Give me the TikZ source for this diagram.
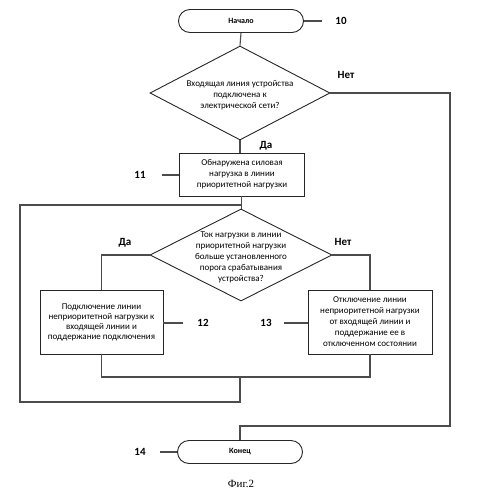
\documentclass[tikz,border=0pt]{standalone}
\usepackage{fontspec}
\setmainfont{Carlito}
\newfontfamily\capfont{Liberation Serif}
\usetikzlibrary{shapes.geometric}
\tikzset{
  ln/.style={draw=black!70, line width=1.1pt},
  shp/.style={draw=black!85, line width=0.9pt},
  term/.style={shp, rounded corners=11.5pt, minimum width=125pt, minimum height=23pt, inner sep=0pt, font=\fontsize{8}{10}\selectfont\bfseries},
  procbox/.style={shp, inner sep=0pt, align=center, font=\fontsize{9}{11}\selectfont},
  dia/.style={shp, diamond, inner sep=0pt},
  diatxt/.style={align=center, inner sep=0pt, font=\fontsize{9}{11}\selectfont},
  lbl/.style={font=\fontsize{11}{13}\selectfont\bfseries, inner sep=0pt}
}
\begin{document}
\begin{tikzpicture}[x=1pt,y=-1pt]
\useasboundingbox (0,0) rectangle (494,504);
% terminals
\node[term] (start) at (241,21) {Начало};
\node[term] (stop) at (240,452) {Конец};
% decision 1
\node[dia, minimum width=180pt, minimum height=94pt] (d1) at (240,93) {};
\node[diatxt] (d1t) at (240,95) {Входящая линия устройства\\подключена к\\электрической сети?};
% box 11
\node[procbox, minimum width=125pt, minimum height=43pt] (b11) at (242,174.5) {Обнаружена силовая\\нагрузка в линии\\приоритетной нагрузки};
% decision 2
\node[dia, minimum width=182pt, minimum height=92pt] (d2) at (241,255) {};
\node[diatxt] (d2t) at (241,257) {Ток нагрузки в линии\\приоритетной нагрузки\\больше установленного\\порога срабатывания\\устройства?};
% boxes 12, 13
\node[procbox, minimum width=123pt, minimum height=64pt, font=\fontsize{9}{10}\selectfont] (b12) at (101.5,322) {Подключение линии\\неприоритетной нагрузки к\\входящей линии и\\поддержание подключения};
\node[procbox, minimum width=124pt, minimum height=64pt] (b13) at (370,322) {Отключение линии\\неприоритетной нагрузки\\от входящей линии и\\поддержание ее в\\отключенном состоянии};
% coordinates
\coordinate (r1) at (450,93);
\coordinate (r2) at (450,426);
\coordinate (j1) at (241.5,205);
\coordinate (l1) at (20,205);
\coordinate (l2) at (20,402);
\coordinate (m2) at (240,402);
\coordinate (m1) at (240,377);
\coordinate (c1) at (101.5,377);
\coordinate (c2) at (370,377);
% connectors
\draw[ln] (start.south) -- (d1.north);
\draw[ln] (d1.south) -- (b11.north -| d1.south);
\draw[ln] (b11.south -| j1) -- (d2.north -| j1);
\draw[ln] (d1.east) -- (r1) -- (r2) -| (stop.north);
\draw[ln] (d2.west) -| (b12.north);
\draw[ln] (d2.east) -| (b13.north);
\draw[ln] (b12.south) -- (c1) -- (c2) -- (b13.south);
\draw[ln] (m1) -- (m2) -- (l2) -- (l1) -- (j1);
% branch labels
\node[lbl] (no1) at (346,75) {Нет};
\node[lbl] (yes1) at (266,146) {Да};
\node[lbl] (yes2) at (125,243) {Да};
\node[lbl] (no2) at (343,242) {Нет};
% reference numerals
\node[lbl] (n10) at (341,21) {10};
\coordinate (e10) at (322,21);
\draw[ln] (start.east) -- (e10);
\node[lbl] (n11) at (140,175) {11};
\coordinate (e11) at (162,175);
\draw[ln] (e11) -- (b11.west |- e11);
\node[lbl] (n12) at (203,323) {12};
\coordinate (e12) at (183,323);
\draw[ln] (b12.east |- e12) -- (e12);
\node[lbl] (n13) at (266,323) {13};
\coordinate (e13) at (284,323);
\draw[ln] (e13) -- (b13.west |- e13);
\node[lbl] (n14) at (140,452) {14};
\coordinate (e14) at (160,452);
\draw[ln] (e14) -- (stop.west);
% caption
\node[font=\capfont\fontsize{11}{13}\selectfont, inner sep=0pt] (cap) at (241,484) {Фиг.2};
\end{tikzpicture}
\end{document}
